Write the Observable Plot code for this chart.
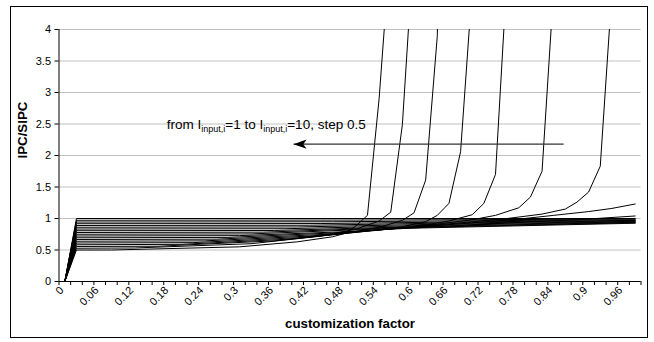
<!DOCTYPE html>
<html><head><meta charset="utf-8">
<script src="https://cdn.jsdelivr.net/npm/d3@7"></script>
<script src="https://cdn.jsdelivr.net/npm/@observablehq/plot@0.6"></script>
<style>
body{margin:0;background:#fff;}
#wrap{position:relative;width:654px;height:342px;overflow:hidden;}
#border{position:absolute;left:10px;top:6px;width:638px;height:332px;border:1px solid #000;box-sizing:border-box;}
#wrap svg{position:absolute;left:0;top:0;}
</style></head><body><div id="wrap"><div id="border"></div></div>
<script>
// ---- axis ticks / categories ----
const yTicks = [0, 0.5, 1, 1.5, 2, 2.5, 3, 3.5, 4];
const xLabels = [0, 0.06, 0.12, 0.18, 0.24, 0.3, 0.36, 0.42, 0.48, 0.54, 0.6, 0.66, 0.72, 0.78, 0.84, 0.9, 0.96];
const categories = [0, 0.02, 0.04, 0.06, 0.08, 0.1, 0.12, 0.14, 0.16, 0.18, 0.2, 0.22, 0.24, 0.26, 0.28, 0.3, 0.32, 0.34, 0.36, 0.38, 0.4, 0.42, 0.44, 0.46, 0.48, 0.5, 0.52, 0.54, 0.56, 0.58, 0.6, 0.62, 0.64, 0.66, 0.68, 0.7, 0.72, 0.74, 0.76, 0.78, 0.8, 0.82, 0.84, 0.86, 0.88, 0.9, 0.92, 0.94, 0.96, 0.98];

// ---- series: [customization factor, IPC/SIPC] ----
const I1   = [[0,0],[0.02,1.0],[0.98,1.0]];
const I1_5 = [[0,0],[0.02,0.972],[0.5,0.975],[0.98,0.99]];
const I2   = [[0,0],[0.02,0.944],[0.46,0.948],[0.72,0.965],[0.98,0.98]];
const I2_5 = [[0,0],[0.02,0.917],[0.44,0.92],[0.68,0.945],[0.98,0.97]];
const I3   = [[0,0],[0.02,0.889],[0.42,0.893],[0.64,0.925],[0.98,0.963]];
const I3_5 = [[0,0],[0.02,0.861],[0.4,0.866],[0.62,0.905],[0.98,0.955]];
const I4   = [[0,0],[0.02,0.833],[0.38,0.838],[0.6,0.885],[0.98,0.948]];
const I4_5 = [[0,0],[0.02,0.806],[0.36,0.81],[0.58,0.865],[0.98,0.94]];
const I5   = [[0,0],[0.02,0.778],[0.34,0.783],[0.56,0.85],[0.98,0.933]];
const I5_5 = [[0,0],[0.02,0.75],[0.32,0.755],[0.54,0.835],[0.98,0.925]];
const I6   = [[0,0],[0.02,0.722],[0.3,0.728],[0.48,0.79],[0.62,0.86],[0.76,0.93],[0.88,0.98],[0.98,1.04]];
const I6_5 = [[0,0],[0.02,0.694],[0.28,0.7],[0.46,0.77],[0.6,0.86],[0.7,0.93],[0.78,0.99],[0.84,1.05],[0.9,1.11],[0.94,1.16],[0.98,1.23]];
const I7   = [[0,0],[0.02,0.667],[0.26,0.672],[0.44,0.745],[0.58,0.85],[0.68,0.93],[0.76,1.0],[0.82,1.07],[0.86,1.15],[0.88,1.26],[0.9,1.42],[0.92,1.83],[0.94,4.6]];
const I7_5 = [[0,0],[0.02,0.639],[0.24,0.645],[0.42,0.72],[0.56,0.835],[0.64,0.91],[0.7,0.98],[0.74,1.05],[0.78,1.17],[0.8,1.34],[0.82,1.75],[0.84,4.65]];
const I8   = [[0,0],[0.02,0.611],[0.22,0.617],[0.4,0.695],[0.54,0.815],[0.62,0.9],[0.66,0.96],[0.7,1.06],[0.72,1.24],[0.74,1.7],[0.76,4.9]];
const I8_5 = [[0,0],[0.02,0.583],[0.2,0.59],[0.38,0.67],[0.5,0.78],[0.58,0.87],[0.62,0.95],[0.64,1.05],[0.66,1.24],[0.68,2.06],[0.7,4.67]];
const I9   = [[0,0],[0.02,0.556],[0.16,0.56],[0.36,0.645],[0.48,0.76],[0.54,0.86],[0.58,0.97],[0.6,1.09],[0.62,1.61],[0.64,3.9],[0.66,12]];
const I9_5 = [[0,0],[0.02,0.528],[0.12,0.532],[0.32,0.6],[0.44,0.72],[0.5,0.83],[0.54,0.96],[0.56,1.1],[0.58,2.49],[0.6,5.4]];
const I10  = [[0,0],[0.02,0.5],[0.08,0.5],[0.3,0.55],[0.4,0.63],[0.46,0.71],[0.48,0.76],[0.5,0.88],[0.52,1.05],[0.54,2.9],[0.56,5.4]];

const seriesNames = ["1","1.5","2","2.5","3","3.5","4","4.5","5","5.5","6","6.5","7","7.5","8","8.5","9","9.5","10"];
const seriesData = [I1,I1_5,I2,I2_5,I3,I3_5,I4,I4_5,I5,I5_5,I6,I6_5,I7,I7_5,I8,I8_5,I9,I9_5,I10];

// annotation (data coordinates)
const arrowTail = {c: 0.857, v: 2.18};
const arrowTip = {c: 0.393, v: 2.18};
const noteAt = {c: 0.176, v: 2.41};

// ---- build table ----
const rows = [];
seriesData.forEach((pts, i) => pts.forEach(([c, v]) => rows.push({series: seriesNames[i], c, v})));
const step = categories[1] - categories[0];
const bounds = categories.map(c => c - step / 2).concat([categories[categories.length - 1] + step / 2]);

const stealth = {
  draw(ctx, size) {
    const r = Math.sqrt(size / Math.PI);
    ctx.moveTo(0, 0);
    ctx.lineTo(r, -r * 0.36);
    ctx.lineTo(r * 0.75, 0);
    ctx.lineTo(r, r * 0.36);
    ctx.closePath();
  }
};

const plot = Plot.plot({
  width: 654, height: 342,
  marginLeft: 58.5, marginRight: 13.5, marginTop: 29, marginBottom: 61,
  x: {domain: [bounds[0], bounds[bounds.length - 1]]},
  y: {domain: [0, 4]},
  style: {fontFamily: "'Liberation Sans', Arial, sans-serif", fontSize: "11px", background: "transparent", color: "#000"},
  marks: [
    Plot.gridY(yTicks, {stroke: "#c0c0c0", strokeOpacity: 1, strokeWidth: 1}),
    Plot.line(rows, {x: "c", y: "v", z: "series", stroke: "#000", strokeWidth: 1, clip: true}),
    Plot.ruleX([bounds[0]], {stroke: "#000"}),
    Plot.ruleY([0], {stroke: "#000"}),
    Plot.axisY(yTicks, {tickSize: 4, tickPadding: 4, label: null, tickFormat: d => String(d)}),
    Plot.axisX(bounds, {tickSize: 4, tickFormat: () => "", label: null}),
    Plot.axisX(xLabels, {tickSize: 0, tickPadding: 7, dx: -3, tickRotate: -45, label: null, tickFormat: d => String(d)}),
    Plot.link([0], {x1: () => arrowTip.c, y1: () => arrowTip.v, x2: () => arrowTail.c, y2: () => arrowTail.v, stroke: "#333", strokeWidth: 1.4}),
    Plot.dot([0], {x: () => arrowTip.c, y: () => arrowTip.v, symbol: stealth, r: 13, fill: "#000", stroke: "none"}),
    Plot.text(["IPC/SIPC"], {frameAnchor: "left", dx: -36, dy: 3, rotate: -90, fontWeight: "bold", fontSize: 13.3}),
    Plot.text(["customization factor"], {frameAnchor: "bottom", dy: 46, fontWeight: "bold", fontSize: 13.3})
  ]
});

// subscripted annotation text placed with the plot's scales
const sx = plot.scale("x"), sy = plot.scale("y");
const t = d3.select(plot).append("text")
  .attr("x", sx.apply(noteAt.c)).attr("y", sy.apply(noteAt.v))
  .attr("text-anchor", "start")
  .attr("font-family", "'Liberation Sans', Arial, sans-serif").attr("font-size", 13.5).attr("fill", "#000");
t.append("tspan").text("from I");
t.append("tspan").attr("dy", 3).attr("font-size", 9).text("input,i");
t.append("tspan").attr("dy", -3).text("=1 to I");
t.append("tspan").attr("dy", 3).attr("font-size", 9).text("input,i");
t.append("tspan").attr("dy", -3).text("=10, step 0.5");

document.getElementById("wrap").appendChild(plot);
</script></body></html>
